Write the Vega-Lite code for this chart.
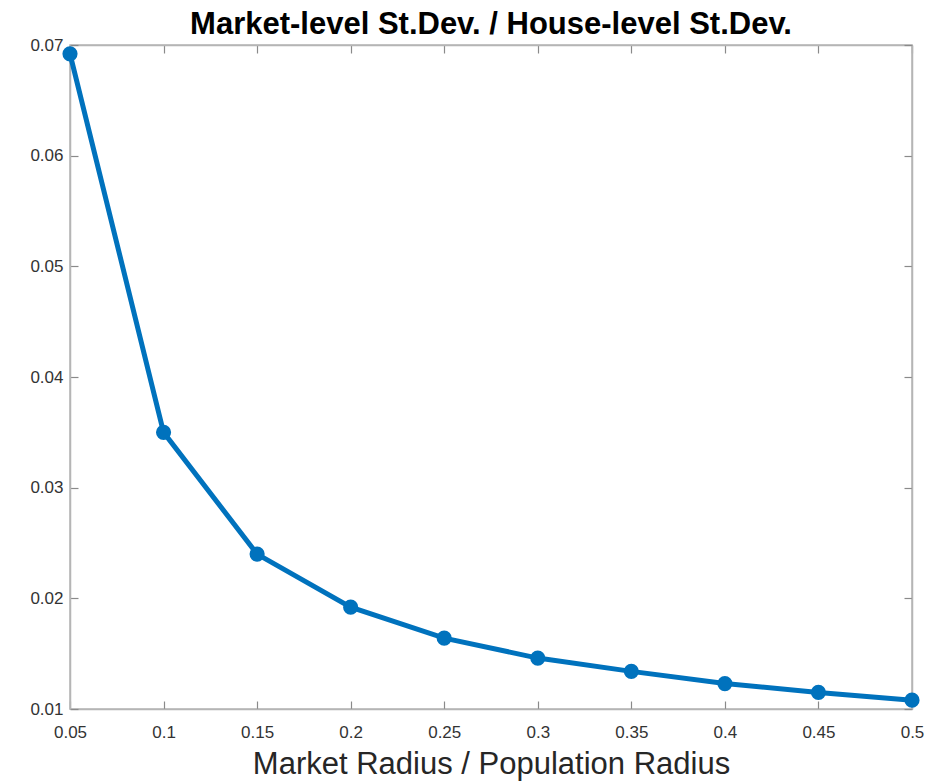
{
  "$schema": "https://vega.github.io/schema/vega-lite/v6.json",
  "width": 842,
  "height": 664,
  "autosize": {"type": "none"},
  "padding": {"left": 70, "top": 45, "right": 26, "bottom": 72},
  "background": "white",
  "title": {
    "text": "Market-level St.Dev. / House-level St.Dev.",
    "font": "Liberation Sans",
    "fontSize": 31,
    "fontWeight": "bold",
    "color": "#000000",
    "anchor": "middle",
    "offset": -5
  },
  "config": {
    "view": {"stroke": "#b5b5b5", "strokeWidth": 1.5},
    "axis": {
      "labelFont": "Liberation Sans",
      "labelFontSize": 17,
      "labelColor": "#333333",
      "titleFont": "Liberation Sans",
      "titleColor": "#262626",
      "domainColor": "#b5b5b5",
      "domainWidth": 1.5,
      "tickColor": "#8a8a8a",
      "tickSize": -8,
      "tickWidth": 1.2,
      "grid": false
    }
  },
  "data": {
    "values": [
      {"r": 0.05, "v": 0.0692},
      {"r": 0.10, "v": 0.0350},
      {"r": 0.15, "v": 0.0240},
      {"r": 0.20, "v": 0.0192},
      {"r": 0.25, "v": 0.0164},
      {"r": 0.30, "v": 0.0146},
      {"r": 0.35, "v": 0.0134},
      {"r": 0.40, "v": 0.0123},
      {"r": 0.45, "v": 0.0115},
      {"r": 0.50, "v": 0.0108}
    ]
  },
  "layer": [
    {
      "mark": {"type": "line", "color": "#0072BD", "strokeWidth": 5, "point": {"filled": true, "size": 230, "color": "#0072BD"}},
      "encoding": {
        "x": {
          "field": "r", "type": "quantitative",
          "scale": {"domain": [0.05, 0.5], "nice": false, "zero": false},
          "axis": {
            "values": [0.05, 0.1, 0.15, 0.2, 0.25, 0.3, 0.35, 0.4, 0.45, 0.5],
            "labelExpr": "format(datum.value, '~g')",
            "title": "Market Radius / Population Radius",
            "titleFontSize": 31, "titleFontWeight": "normal",
            "labelPadding": 23, "titlePadding": 9,
            "labelFlush": false
          }
        },
        "y": {
          "field": "v", "type": "quantitative",
          "scale": {"domain": [0.01, 0.07], "nice": false, "zero": false},
          "axis": {
            "values": [0.01, 0.02, 0.03, 0.04, 0.05, 0.06, 0.07],
            "labelExpr": "format(datum.value, '~g')",
            "title": null,
            "labelPadding": 15,
            "labelFlush": false
          }
        }
      }
    },
    {
      "mark": {"type": "point", "opacity": 0},
      "encoding": {
        "x": {
          "field": "r", "type": "quantitative",
          "scale": {"domain": [0.05, 0.5], "nice": false, "zero": false},
          "axis": {"orient": "top", "values": [0.05, 0.1, 0.15, 0.2, 0.25, 0.3, 0.35, 0.4, 0.45, 0.5], "labels": false, "title": null}
        },
        "y": {
          "field": "v", "type": "quantitative",
          "scale": {"domain": [0.01, 0.07], "nice": false, "zero": false},
          "axis": {"orient": "right", "values": [0.01, 0.02, 0.03, 0.04, 0.05, 0.06, 0.07], "labels": false, "title": null}
        }
      }
    }
  ],
  "resolve": {"axis": {"x": "independent", "y": "independent"}}
}
